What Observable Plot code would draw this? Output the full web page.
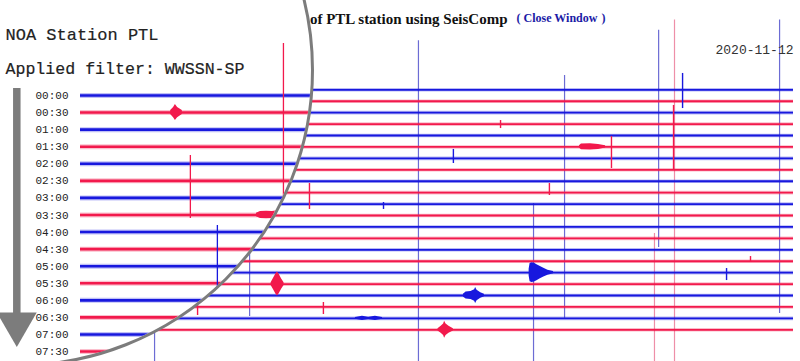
<!DOCTYPE html>
<html><head><meta charset="utf-8">
<script src="https://cdn.jsdelivr.net/npm/d3@7"></script>
<script src="https://cdn.jsdelivr.net/npm/@observablehq/plot@0.6"></script>
<style>
html,body{margin:0;padding:0;background:#fff;}
#wrap{position:relative;width:800px;height:361px;overflow:hidden;background:#fff;}
#bg{position:absolute;left:0;top:0;width:800px;height:361px;}
#lens{position:absolute;left:-280px;top:-227px;width:594px;height:594px;box-sizing:border-box;border:3px solid #7c7c7c;border-radius:50%;overflow:hidden;background:#fff;}
#lensInner{position:absolute;left:277px;top:224px;width:800px;height:361px;}
svg{display:block;max-width:none !important;}
</style></head><body>
<div id="wrap"><div id="bg"></div><div id="lens"><div id="lensInner"></div></div></div>
<script>
// ---------- data ----------
const BLUE = "#1818de", RED = "#f2194c", BLUE_FAINT = "#6c6cd4", RED_FAINT = "#ee8fa8", GRAY = "#7c7c7c";

const bgTitle = "Helicorder plotting of PTL station using SeisComp";
const bgLink = ["(", "Close Window", ")"];
const bgDate = "2020-11-12";
const bgTimes = ["00:00","00:30","01:00","01:30","02:00","02:30","03:00","03:30","04:00","04:30","05:00",
                 "05:30","06:00","06:30","07:00","07:30","08:00","08:30","09:00","09:30","10:00","10:30"];

const lensTitle = "NOA Station PTL";
const lensFilter = "Applied filter: WWSSN-SP";
const lensTimes = ["00:00","00:30","01:00","01:30","02:00","02:30","03:00","03:30",
                   "04:00","04:30","05:00","05:30","06:00","06:30","07:00","07:30"];

// long clipped glitch lines crossing many rows (minute in row, from row, to row, colour key)
const bgGlitches = [
  {m:14.65, r1:-4.3,  r2:24,    c:"b"},
  {m:20.63, r1:-1.25, r2:20.0,  c:"b"},
  {m:24.48, r1:-5.2,  r2:13.8,  c:"b"},
  {m:25.13, r1:-6.1,  r2:24,    c:"r"},
  {m:29.43, r1:-6.1,  r2:19.57, c:"b"},
  {m:19.36, r1:9.95,  r2:24,    c:"b"},
  {m:24.31, r1:12.57, r2:24,    c:"r"},
  {m:3.85,  r1:14.06, r2:24,    c:"b"},
  {m:7.74,  r1:12.31, r2:19.84, c:"b"}
];
// short spikes
const bgSpikes = [
  {m:25.46, r1:-1.43, r2:1.64,  c:"b"},
  {m:25.09, r1:1.37,  r2:7.06,  c:"r"},
  {m:16.08, r1:5.22,  r2:6.45,  c:"b"},
  {m:18.01, r1:2.69,  r2:3.39,  c:"r"},
  {m:22.55, r1:4.09,  r2:6.89,  c:"r"},
  {m:10.19, r1:8.2,   r2:10.47, c:"r"},
  {m:13.22, r1:9.86,  r2:10.47, c:"b"},
  {m:20.01, r1:8.2,   r2:9.25,  c:"r"},
  {m:10.76, r1:18.61, r2:19.66, c:"r"},
  {m:27.26, r1:15.64, r2:16.69, c:"b"},
  {m:5.61,  r1:18.88, r2:19.75, c:"r"},
  {m:28.24, r1:14.59, r2:15.11, c:"r"}
];
// earthquake wave packets: envelope [minute, amplitude in rows]
const bgBurstList = [
  {id:"A", row:16, pts:[[19.18,0.3],[19.22,0.8],[19.30,0.87],[19.40,0.82],[19.50,0.7],[19.62,0.55],[19.78,0.38],[19.95,0.22],[20.18,0.1]]},
  {id:"B", row:18, pts:[[16.49,0.12],[16.60,0.3],[16.80,0.35],[16.95,0.5],[16.99,0.7],[17.05,0.45],[17.20,0.25],[17.35,0.1]]},
  {id:"C", row:21, pts:[[15.45,0.1],[15.58,0.3],[15.68,0.5],[15.72,0.75],[15.78,0.5],[15.90,0.3],[16.08,0.1]]},
  {id:"D", row:17, pts:[[8.62,0.12],[8.72,0.5],[8.82,0.9],[8.88,1.05],[8.95,0.85],[9.05,0.45],[9.15,0.12]]},
  {id:"E", row:5,  pts:[[21.24,0.1],[21.32,0.25],[21.69,0.27],[22.02,0.22],[22.31,0.1]]},
  {id:"F", row:20, pts:[[12.07,0.08],[12.36,0.18],[12.61,0.1],[12.89,0.18],[13.18,0.08]]}
];
const lensLines = [
  {m:5.56, r1:-3.05, r2:6.91, c:"r"},
  {m:3.01, r1:3.51,  r2:7.21, c:"r"},
  {m:3.75, r1:7.62,  r2:12.0, c:"b"}
];
const lensBurstList = [
  {id:"L1", row:1, pts:[[2.47,0.12],[2.55,0.3],[2.60,0.47],[2.66,0.3],[2.79,0.12]]},
  {id:"L2", row:7, pts:[[4.82,0.1],[4.93,0.2],[5.10,0.22],[5.26,0.2],[5.40,0.25],[5.51,0.08]]}
];
const arrowX = -1.745;

// ---------- tables ----------
const rowColor = i => i % 2 ? RED : BLUE;
const keyColor = c => c === "b" ? BLUE : RED;
const bgRows = bgTimes.map((t, i) => ({t, row: i, color: rowColor(i)}));
const lensRows = lensTimes.map((t, i) => ({t, row: i, color: rowColor(i)}));
const flat = list => list.flatMap(b => b.pts.map(([m, amp]) => ({id: b.id, row: b.row, m, amp})));
const bgBursts = flat(bgBurstList);
const lensBursts = flat(lensBurstList);

// ---------- background helicorder ----------
const bg = Plot.plot({
  width: 800, height: 361, margin: 0,
  x: {domain: [0, 30], range: [60, 793], axis: null},
  y: {domain: [0, 21], range: [89.3, 329.3], axis: null},
  color: {type: "identity"},
  style: {background: "transparent", overflow: "visible"},
  marks: [
    Plot.ruleX(bgGlitches, {x: "m", y1: "r1", y2: "r2", stroke: d => d.c === "b" ? BLUE_FAINT : RED_FAINT, strokeWidth: 1.2}),
    Plot.ruleY(bgRows, {y: "row", x1: 0, x2: 30, stroke: "color", strokeWidth: 3.6, strokeOpacity: 0.3}),
    Plot.ruleY(bgRows, {y: "row", x1: 0, x2: 30, stroke: "color", strokeWidth: 1.8}),
    Plot.areaY(bgBursts, {x: "m", y1: d => d.row - d.amp, y2: d => d.row + d.amp, z: "id", fill: d => rowColor(d.row)}),
    Plot.ruleX(bgSpikes, {x: "m", y1: "r1", y2: "r2", stroke: d => keyColor(d.c), strokeWidth: 1.4}),
    Plot.text([bgTitle], {text: d => d, frameAnchor: "top-left", dx: 507, dy: 12.5, textAnchor: "end",
      fontFamily: "Liberation Serif", fontWeight: "bold", fontSize: 15, fill: "#111"}),
    Plot.text([bgLink[0]], {text: d => d, frameAnchor: "top-left", dx: 516, dy: 12.5, textAnchor: "start",
      fontFamily: "Liberation Serif", fontWeight: "bold", fontSize: 12, fill: "#1a1aa6"}),
    Plot.text([bgLink[1]], {text: d => d, frameAnchor: "top-left", dx: 523, dy: 12.5, textAnchor: "start",
      fontFamily: "Liberation Serif", fontWeight: "bold", fontSize: 12, fill: "#1a1aa6", ariaLabel: "link"}),
    Plot.text([bgLink[2]], {text: d => d, frameAnchor: "top-left", dx: 601, dy: 12.5, textAnchor: "start",
      fontFamily: "Liberation Serif", fontWeight: "bold", fontSize: 12, fill: "#1a1aa6"}),
    Plot.text([bgDate], {text: d => d, frameAnchor: "top-left", dx: 793, dy: 44, textAnchor: "end",
      fontFamily: "Liberation Mono", fontSize: 13, fill: "#333"})
  ]
});
bg.querySelectorAll('g[aria-label="link"] text').forEach(t => t.style.textDecoration = "underline");
document.getElementById("bg").appendChild(bg);

// ---------- magnifier lens ----------
const lens = Plot.plot({
  width: 800, height: 361, margin: 0,
  x: {domain: [0, 30], range: [80, 1175], axis: null},
  y: {domain: [0, 15], range: [95, 351.05], axis: null},
  color: {type: "identity"},
  style: {background: "transparent", overflow: "visible"},
  marks: [
    Plot.ruleY(lensRows, {y: "row", x1: 0, x2: 30, stroke: "color", strokeWidth: 5, strokeOpacity: 0.28}),
    Plot.ruleY(lensRows, {y: "row", x1: 0, x2: 30, stroke: "color", strokeWidth: 2.6}),
    Plot.areaY(lensBursts, {x: "m", y1: d => d.row - d.amp, y2: d => d.row + d.amp, z: "id", fill: d => rowColor(d.row)}),
    Plot.ruleX(lensLines, {x: "m", y1: "r1", y2: "r2", stroke: d => keyColor(d.c), strokeWidth: 1.3}),
    Plot.text(lensRows, {y: "row", text: "t", frameAnchor: "left", dx: 35, textAnchor: "start",
      fontFamily: "Liberation Mono", fontSize: 11, fill: "#222", ariaLabel: "stretch-small"}),
    Plot.text([lensTitle], {text: d => d, frameAnchor: "top-left", dx: 5, dy: 27, textAnchor: "start",
      fontFamily: "Liberation Mono", fontSize: 17, fill: "#222", stroke: "#222", strokeWidth: 0.2, ariaLabel: "stretch-big"}),
    Plot.text([lensFilter], {text: d => d, frameAnchor: "top-left", dx: 5, dy: 62, textAnchor: "start",
      fontFamily: "Liberation Mono", fontSize: 16.6, fill: "#222", stroke: "#222", strokeWidth: 0.2, ariaLabel: "stretch-big"}),
    Plot.ruleX([arrowX], {x: d => d, y1: -0.41, y2: 12.9, stroke: GRAY, strokeWidth: 7.5}),
    Plot.dot([arrowX], {x: d => d, y: 13.39, symbol: "triangle", r: 14.8, rotate: 180, fill: GRAY, stroke: "none"})
  ]
});
const stretch = (svg, label, k) => svg.querySelectorAll(`g[aria-label="${label}"] text`).forEach(t =>
  t.setAttribute("transform", (t.getAttribute("transform") || "") + ` scale(1,${k})`));
stretch(lens, "stretch-big", 1.3);
stretch(lens, "stretch-small", 1.25);
document.getElementById("lensInner").appendChild(lens);
</script></body></html>
